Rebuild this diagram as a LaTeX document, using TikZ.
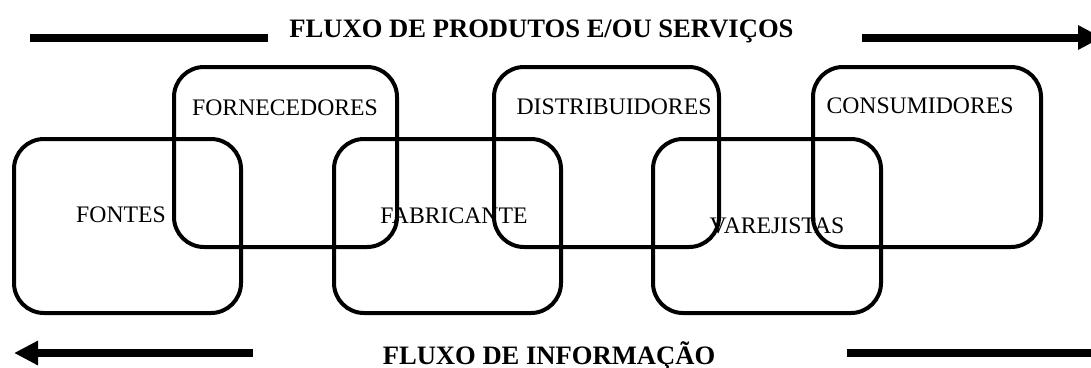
\documentclass[tikz,border=0pt]{standalone}
\usepackage{fontspec}
\setmainfont{Liberation Serif}
\usetikzlibrary{arrows.meta}
\tikzset{
  box/.style={draw=black, line width=4pt, rounded corners=30pt, inner sep=0pt, outer sep=0pt},
  lbl/.style={anchor=base, inner sep=0pt, font=\fontsize{23.7}{28}\selectfont},
  flowtxt/.style={anchor=base, inner sep=0pt, font=\fontsize{26.6}{32}\selectfont\bfseries},
  flowline/.style={line width=8pt, draw=black},
  flowarrow/.style={flowline, -{Triangle[length=24pt,width=23pt]}}
}
\begin{document}
\begin{tikzpicture}[x=1pt,y=-1pt]
\useasboundingbox (0,0) rectangle (1091,367);
% lower boxes
\node[box, minimum width=227pt, minimum height=174pt] (fontes) at (127.5,226) {};
\node[box, minimum width=227pt, minimum height=174pt] (fabricante) at (447.5,226) {};
\node[box, minimum width=228pt, minimum height=174pt] (varejistas) at (767,226) {};
% upper boxes
\node[box, minimum width=223pt, minimum height=180pt] (fornecedores) at (285.5,157) {};
\node[box, minimum width=225pt, minimum height=180pt] (distribuidores) at (606.5,157) {};
\node[box, minimum width=228pt, minimum height=180pt] (consumidores) at (927,157) {};
% labels
\node[lbl] (lfornecedores) at (285,115) {FORNECEDORES};
\node[lbl] (ldistribuidores) at (614,114) {DISTRIBUIDORES};
\node[lbl] (lconsumidores) at (920,113) {CONSUMIDORES};
\node[lbl] (lfontes) at (121,222) {FONTES};
\node[lbl] (lfabricante) at (454,223) {FABRICANTE};
\node[lbl] (lvarejistas) at (777,233) {VAREJISTAS};
% flow texts
\node[flowtxt] (tprod) at (541.5,37.5) {FLUXO DE PRODUTOS E/OU SERVIÇOS};
\node[flowtxt] (tinfo) at (549,364.5) {FLUXO DE INFORMAÇÃO};
% flow arrows
\coordinate (p1) at (30,37.5);
\coordinate (p2) at (268,37.5);
\coordinate (p3) at (862,37.5);
\coordinate (p4) at (1102,37.5);
\coordinate (q1) at (253,353);
\coordinate (q2) at (14,353);
\coordinate (q3) at (847,353);
\coordinate (q4) at (1095,353);
\draw[flowline] (p1) -- (p2);
\draw[flowarrow] (p3) -- (p4);
\draw[flowarrow] (q1) -- (q2);
\draw[flowline] (q3) -- (q4);
\end{tikzpicture}
\end{document}
